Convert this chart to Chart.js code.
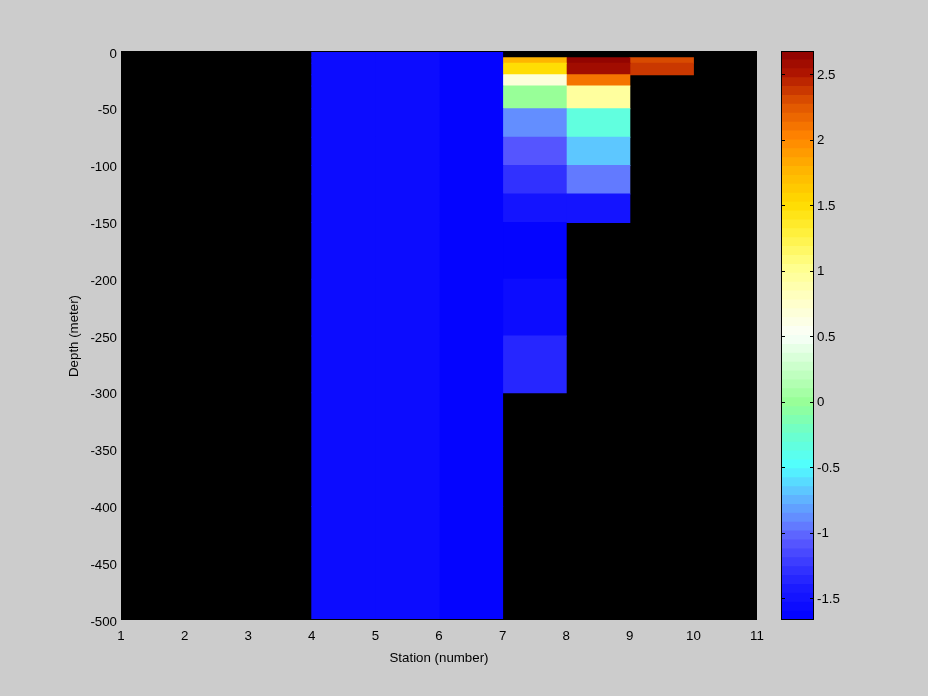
<!DOCTYPE html>
<html>
<head>
<meta charset="utf-8">
<script src="https://cdn.jsdelivr.net/npm/chart.js@4.4.0/dist/chart.umd.min.js"></script>
<style>
  html, body { margin: 0; padding: 0; background: #cccccc; }
  #wrap { position: relative; width: 928px; height: 696px; }
  #main { position: absolute; left: 0; top: 0; }
  #cbar { position: absolute; left: 760px; top: 0; }
</style>
</head>
<body>
<div id="wrap">
  <canvas id="main" width="928" height="696"></canvas>
  <canvas id="cbar" width="140" height="696"></canvas>
</div>
<script>
// grid edges
const stationEdges = [1, 2, 3, 4, 5, 6, 7, 8, 9, 10, 11];
const depthEdges = [0, -5, -10, -20, -30, -50, -75, -100, -125, -150, -200, -250, -300, -400, -500];

// one value per depth layer for the cell between station n and n+1 (null = no data)
const station4 = [-1.56, -1.56, -1.56, -1.56, -1.56, -1.56, -1.56, -1.56, -1.56, -1.56, -1.56, -1.56, -1.56, -1.56];
const station5 = [-1.56, -1.56, -1.56, -1.56, -1.56, -1.56, -1.56, -1.56, -1.56, -1.56, -1.56, -1.56, -1.56, -1.56];
const station6 = [-1.64, -1.64, -1.64, -1.64, -1.64, -1.64, -1.64, -1.64, -1.64, -1.64, -1.64, -1.64, -1.64, -1.64];
const station7 = [null, 1.77, 1.5, 0.7, 0.0, -0.9, -1.12, -1.3, -1.48, -1.64, -1.57, -1.38, null, null];
const station8 = [null, 2.64, 2.56, 2.13, 0.97, -0.35, -0.68, -0.97, -1.47, null, null, null, null, null];
const station9 = [null, 2.32, 2.4, null, null, null, null, null, null, null, null, null, null, null];

const columns = [station4, station5, station6, station7, station8, station9];
const columnStations = [4, 5, 6, 7, 8, 9];

// colour limits and ticks
const cmin = -1.666;
const cmax = 2.678;
const cbTicks = [-1.5, -1, -0.5, 0, 0.5, 1, 1.5, 2, 2.5];
const xTicks = stationEdges;
const yTicks = [0, -50, -100, -150, -200, -250, -300, -350, -400, -450, -500];

// colormap anchors (fraction from bottom, rgb)
const cmapPos = [0, 0.06, 0.14, 0.17, 0.22, 0.27, 0.33, 0.38, 0.44, 0.50, 0.56, 0.62, 0.68, 0.73, 0.79, 0.85, 0.91, 0.96, 1.0];
const cmapRgb = [
  [0, 0, 255], [30, 30, 255], [90, 90, 255], [100, 130, 255], [95, 190, 255],
  [80, 255, 255], [110, 255, 200], [150, 255, 150], [200, 255, 200], [250, 255, 250],
  [255, 255, 200], [255, 255, 140], [255, 240, 60], [255, 220, 0], [255, 180, 0],
  [255, 130, 0], [220, 80, 0], [175, 20, 0], [140, 0, 0]
];
const nLevels = 64;

function cmapAt(t) {
  let i = 0;
  while (i < cmapPos.length - 2 && t > cmapPos[i + 1]) i++;
  const f = Math.min(1, Math.max(0, (t - cmapPos[i]) / (cmapPos[i + 1] - cmapPos[i])));
  const a = cmapRgb[i], b = cmapRgb[i + 1];
  const c = a.map((v, k) => Math.round(v + (b[k] - v) * f));
  return 'rgb(' + c.join(',') + ')';
}
function levelColor(band) {
  return cmapAt((band + 0.5) / nLevels);
}
function valueColor(v) {
  let band = Math.floor((v - cmin) / (cmax - cmin) * nLevels);
  band = Math.max(0, Math.min(nLevels - 1, band));
  return levelColor(band);
}

Chart.defaults.font = { family: '"Liberation Sans", Arial, sans-serif', size: 13.3 };
Chart.defaults.color = '#000';

// heat map cells as floating bars
const datasets = columns.map((vals, c) => {
  const data = [], colors = [];
  vals.forEach((v, r) => {
    if (v === null) return;
    data.push({ x: columnStations[c] + 0.5, y: [depthEdges[r], depthEdges[r + 1]] });
    colors.push(valueColor(v));
  });
  return {
    data: data,
    backgroundColor: colors,
    borderWidth: 0,
    inflateAmount: 0.5,
    grouped: false,
    barPercentage: 1,
    categoryPercentage: 1
  };
});

const axesBox = {
  id: 'axesBox',
  beforeDatasetsDraw(chart) {
    const a = chart.chartArea, ctx = chart.ctx;
    ctx.save();
    ctx.fillStyle = '#000';
    ctx.fillRect(a.left, a.top - 1, a.right - a.left, a.bottom - a.top + 1);
    ctx.restore();
  },
  afterDatasetsDraw(chart) {
    const a = chart.chartArea, ctx = chart.ctx;
    ctx.save();
    ctx.strokeStyle = '#000';
    ctx.lineWidth = 1;
    ctx.strokeRect(a.left + 0.5, a.top - 0.5, a.right - a.left - 1, a.bottom - a.top);
    ctx.restore();
  }
};

new Chart(document.getElementById('main'), {
  type: 'bar',
  data: { datasets: datasets },
  options: {
    responsive: false,
    animation: false,
    layout: { padding: { top: 52, right: 171, left: 0, bottom: 0 } },
    plugins: { legend: { display: false }, tooltip: { enabled: false } },
    scales: {
      x: {
        type: 'linear',
        min: 1,
        max: 11,
        offset: false,
        grid: { display: false, drawTicks: false, offset: false },
        border: { display: false },
        afterBuildTicks: s => { s.ticks = xTicks.map(v => ({ value: v })); },
        afterFit: s => { s.height = 76; },
        ticks: { padding: 8, maxRotation: 0, autoSkip: false },
        title: { display: true, text: 'Station (number)', padding: { top: 0, bottom: 30 } }
      },
      y: {
        type: 'linear',
        min: -500,
        max: 0,
        grid: { display: false, drawTicks: false },
        border: { display: false },
        afterBuildTicks: s => { s.ticks = yTicks.map(v => ({ value: v })); },
        afterFit: s => { s.width = 121; },
        ticks: { padding: 4, labelOffset: 2, autoSkip: false },
        title: { display: true, text: 'Depth (meter)', padding: { top: 66, bottom: 0 } }
      }
    }
  },
  plugins: [axesBox]
});

// colorbar: one floating bar per colour level
const step = (cmax - cmin) / nLevels;
const cbDatasets = [];
for (let i = 0; i < nLevels; i++) {
  cbDatasets.push({
    data: [[cmin + i * step, cmin + (i + 1) * step]],
    backgroundColor: levelColor(i),
    borderWidth: 0,
    inflateAmount: 0.5,
    grouped: false,
    barPercentage: 1,
    categoryPercentage: 1
  });
}

const cbFrame = {
  id: 'cbFrame',
  afterDatasetsDraw(chart) {
    const a = chart.chartArea, ctx = chart.ctx, y = chart.scales.y;
    ctx.save();
    ctx.strokeStyle = '#000';
    ctx.lineWidth = 1;
    ctx.beginPath();
    cbTicks.forEach(v => {
      const py = Math.round(y.getPixelForValue(v)) + 0.5;
      ctx.moveTo(a.left, py); ctx.lineTo(a.left + 4, py);
      ctx.moveTo(a.right - 4, py); ctx.lineTo(a.right, py);
    });
    ctx.stroke();
    ctx.strokeRect(a.left + 0.5, a.top + 0.5, a.right - a.left - 1, a.bottom - a.top - 1);
    ctx.restore();
  }
};

new Chart(document.getElementById('cbar'), {
  type: 'bar',
  data: { labels: [''], datasets: cbDatasets },
  options: {
    responsive: false,
    animation: false,
    layout: { padding: { top: 51, bottom: 76, left: 21, right: 0 } },
    plugins: { legend: { display: false }, tooltip: { enabled: false } },
    scales: {
      x: { display: false },
      y: {
        position: 'right',
        min: cmin,
        max: cmax,
        grid: { display: false, drawTicks: false },
        border: { display: false },
        afterBuildTicks: s => { s.ticks = cbTicks.map(v => ({ value: v })); },
        afterFit: s => { s.width = 86; },
        ticks: { padding: 3, labelOffset: 1, autoSkip: false, callback: v => String(v) }
      }
    }
  },
  plugins: [cbFrame]
});
</script>
</body>
</html>
